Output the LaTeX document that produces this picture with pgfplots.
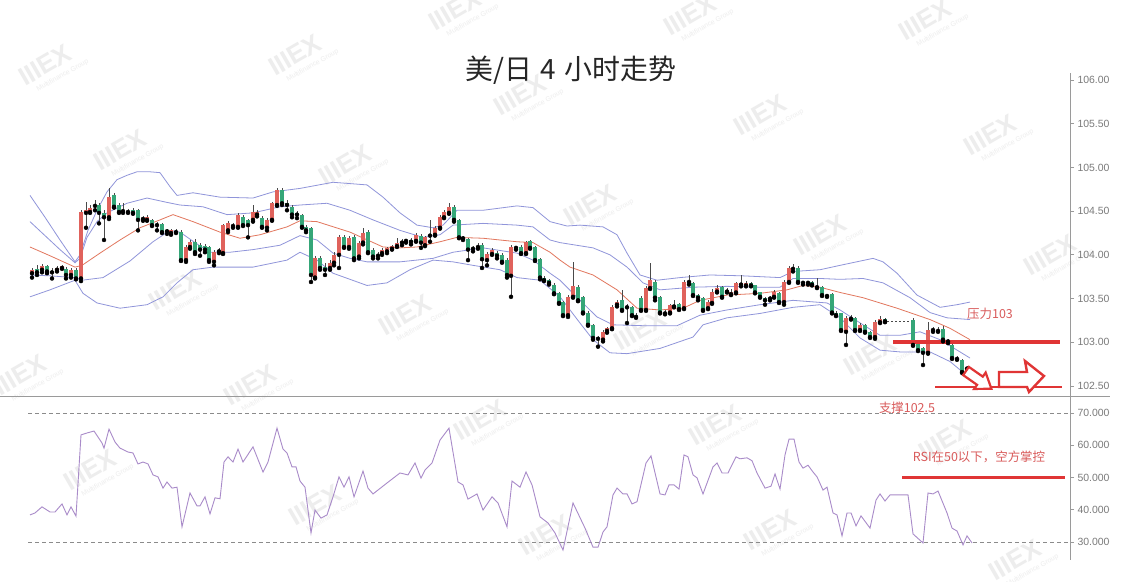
\documentclass[border=0pt]{standalone}
\usepackage{fontspec}
\setmainfont{Liberation Sans}
\newfontfamily\cjk{Noto Sans CJK SC}
\usepackage{pgfplots}
\usepackage{pgfplotstable}
\pgfplotsset{compat=1.18}

\definecolor{upc}{HTML}{E0625C}
\definecolor{dnc}{HTML}{35A678}
\definecolor{wick}{HTML}{4A4A4A}
\definecolor{band}{HTML}{9095DA}
\definecolor{midc}{HTML}{E2775E}
\definecolor{rsic}{HTML}{A98BC9}
\definecolor{anno}{HTML}{E03535}
\definecolor{annotext}{HTML}{D95B5B}
\definecolor{axisc}{HTML}{9A9A9A}
\definecolor{tickc}{HTML}{7A7A7A}
\definecolor{wmark}{HTML}{EDEDED}

% USD/JPY 4h candles: x (px position), open, high, low, close
\pgfplotstableread{
x o h l c
32 103.79 103.85 103.74 103.83
42 103.83 103.90 103.80 103.87
57 103.83 103.87 103.81 103.85
62 103.85 103.88 103.84 103.87
71 103.77 103.85 103.74 103.83
81 103.73 104.51 103.70 104.49
86 104.48 104.60 104.31 104.51
90 104.49 104.57 104.48 104.54
95 104.56 104.63 104.51 104.57
109 104.43 104.76 104.41 104.66
123 104.50 104.59 104.48 104.51
147 104.40 104.46 104.39 104.43
171 104.25 104.30 104.23 104.28
186 103.94 104.11 103.92 104.09
190 104.09 104.17 104.07 104.15
214 103.92 104.06 103.88 104.03
223 104.02 104.35 104.01 104.34
228 104.28 104.39 104.26 104.36
233 104.33 104.36 104.31 104.34
238 104.32 104.48 104.31 104.46
253 104.40 104.57 104.38 104.49
257 104.46 104.51 104.44 104.49
267 104.31 104.42 104.28 104.40
272 104.40 104.61 104.39 104.59
277 104.57 104.76 104.56 104.74
315 103.74 103.99 103.73 103.96
330 103.85 103.94 103.83 103.91
334 103.91 104.03 103.88 104.00
339 104.00 104.23 103.85 104.20
349 104.09 104.22 104.07 104.19
359 103.98 104.16 103.96 104.14
363 104.14 104.31 104.12 104.25
382 104.02 104.08 104.00 104.06
387 104.04 104.09 104.02 104.08
392 104.07 104.11 104.06 104.10
397 104.10 104.19 104.09 104.14
402 104.14 104.18 104.11 104.16
406 104.16 104.18 104.14 104.17
416 104.16 104.25 104.15 104.23
425 104.11 104.22 104.10 104.20
430 104.22 104.40 104.15 104.23
435 104.23 104.33 104.22 104.31
440 104.31 104.46 104.30 104.43
444 104.43 104.51 104.42 104.49
449 104.48 104.59 104.47 104.55
478 104.09 104.14 104.07 104.10
487 103.94 104.03 103.88 104.01
492 104.01 104.08 104.00 104.06
511 103.76 104.11 103.52 104.09
516 104.08 104.10 104.06 104.09
526 104.02 104.16 104.01 104.15
568 103.31 103.54 103.29 103.52
573 103.52 103.92 103.51 103.64
603 103.03 103.14 103.01 103.12
607 103.13 103.17 103.11 103.16
612 103.16 103.43 103.15 103.40
617 103.43 103.48 103.41 103.46
646 103.37 103.64 103.36 103.62
650 103.62 103.91 103.61 103.71
670 103.34 103.44 103.33 103.43
684 103.39 103.71 103.38 103.69
689 103.69 103.77 103.66 103.70
708 103.39 103.48 103.38 103.46
712 103.45 103.61 103.44 103.58
717 103.58 103.65 103.57 103.62
727 103.58 103.62 103.57 103.60
731 103.55 103.61 103.54 103.58
736 103.57 103.69 103.56 103.68
741 103.66 103.77 103.64 103.68
746 103.65 103.70 103.64 103.68
774 103.52 103.60 103.51 103.57
784 103.46 103.71 103.43 103.69
789 103.69 103.87 103.68 103.85
808 103.68 103.70 103.66 103.69
846 103.12 103.30 102.97 103.28
860 103.14 103.22 103.13 103.20
875 103.06 103.26 103.04 103.23
880 103.23 103.30 103.22 103.27
928 102.88 103.23 102.87 103.14
933 103.14 103.17 103.12 103.15
967 102.70 102.73 102.67 102.71
}\upcandles

\pgfplotstableread{
x o h l c
37 103.84 103.88 103.77 103.80
47 103.87 103.88 103.79 103.81
52 103.81 103.85 103.73 103.80
66 103.84 103.86 103.73 103.77
76 103.83 103.85 103.72 103.73
99 104.57 104.59 104.36 104.48
104 104.48 104.51 104.17 104.43
114 104.68 104.71 104.54 104.55
119 104.57 104.59 104.48 104.49
128 104.50 104.52 104.48 104.49
133 104.51 104.54 104.47 104.48
138 104.51 104.52 104.28 104.40
143 104.42 104.44 104.39 104.41
152 104.40 104.41 104.33 104.34
157 104.35 104.38 104.28 104.34
162 104.35 104.36 104.25 104.26
167 104.28 104.30 104.24 104.27
176 104.27 104.30 104.25 104.26
181 104.26 104.28 103.93 103.94
195 104.15 104.18 104.01 104.03
200 104.11 104.14 103.99 104.06
205 104.10 104.12 104.03 104.06
209 104.09 104.10 103.92 103.94
219 104.06 104.08 104.02 104.04
243 104.43 104.46 104.33 104.34
248 104.40 104.41 104.20 104.34
262 104.42 104.44 104.31 104.32
282 104.74 104.76 104.57 104.59
287 104.59 104.63 104.51 104.57
292 104.55 104.57 104.43 104.46
297 104.48 104.50 104.42 104.46
302 104.46 104.47 104.31 104.32
306 104.32 104.34 104.26 104.28
311 104.31 104.32 103.69 103.77
320 103.96 103.99 103.83 103.85
325 103.86 103.91 103.77 103.83
344 104.20 104.23 104.08 104.09
354 104.20 104.23 103.94 103.96
368 104.26 104.28 104.02 104.03
373 104.06 104.08 103.96 103.98
378 104.00 104.03 103.96 103.99
411 104.17 104.19 104.12 104.15
421 104.22 104.24 104.08 104.14
454 104.55 104.57 104.38 104.40
459 104.40 104.41 104.19 104.20
463 104.20 104.22 104.17 104.19
468 104.18 104.19 103.94 104.06
473 104.08 104.10 104.04 104.07
482 104.11 104.14 103.85 103.95
497 104.02 104.04 103.96 103.99
502 104.00 104.02 103.91 103.92
507 103.94 103.96 103.74 103.77
521 104.09 104.11 104.01 104.02
530 104.16 104.17 104.07 104.08
535 104.09 104.10 103.93 103.94
540 103.95 103.96 103.72 103.74
544 103.74 103.76 103.70 103.71
549 103.71 103.72 103.66 103.68
554 103.66 103.68 103.55 103.56
559 103.56 103.57 103.44 103.45
563 103.46 103.47 103.30 103.31
578 103.63 103.65 103.47 103.48
583 103.52 103.53 103.33 103.34
588 103.34 103.36 103.19 103.20
593 103.20 103.21 103.03 103.05
598 103.05 103.07 102.95 103.04
622 103.48 103.60 103.36 103.37
627 103.41 103.44 103.22 103.40
632 103.40 103.41 103.30 103.31
636 103.31 103.33 103.28 103.29
641 103.51 103.53 103.36 103.37
655 103.69 103.71 103.48 103.51
660 103.52 103.53 103.33 103.34
665 103.34 103.37 103.32 103.33
674 103.43 103.48 103.40 103.41
679 103.44 103.45 103.37 103.38
693 103.68 103.69 103.53 103.54
698 103.54 103.55 103.48 103.51
703 103.51 103.52 103.36 103.37
722 103.63 103.64 103.51 103.52
751 103.68 103.69 103.64 103.65
755 103.65 103.66 103.56 103.57
760 103.57 103.58 103.51 103.52
765 103.51 103.52 103.43 103.48
770 103.51 103.53 103.48 103.50
779 103.56 103.57 103.45 103.46
793 103.85 103.90 103.81 103.84
798 103.85 103.87 103.68 103.69
803 103.69 103.70 103.66 103.68
812 103.69 103.70 103.65 103.66
817 103.64 103.74 103.62 103.63
822 103.63 103.64 103.53 103.54
827 103.54 103.55 103.52 103.53
832 103.55 103.56 103.33 103.34
836 103.34 103.36 103.30 103.31
841 103.33 103.34 103.13 103.14
851 103.28 103.31 103.26 103.27
855 103.28 103.29 103.13 103.14
865 103.20 103.21 103.11 103.12
870 103.12 103.13 103.05 103.06
885 103.27 103.28 103.23 103.24
913 103.26 103.28 102.96 102.97
918 102.99 103.00 102.90 102.91
923 102.93 102.95 102.74 102.88
938 103.14 103.17 103.12 103.13
943 103.15 103.19 103.01 103.03
948 103.03 103.04 102.99 103.01
952 102.97 102.98 102.81 102.82
957 102.82 102.84 102.80 102.81
962 102.80 102.81 102.65 102.66
971 102.69 102.71 102.66 102.67
}\dncandles

\pgfplotsset{
  wicks/.style={only marks, mark=none, forget plot,
    error bars/.cd, y dir=plus, y explicit, error mark=none,
    error bar style={line width=0.8bp, draw=wick, solid}},
  bodies/.style={only marks, mark=none, forget plot,
    error bars/.cd, y dir=plus, y explicit, error mark=none,
    error bar style={line width=3.6bp, draw=#1, solid, line cap=butt}},
  rightaxis/.style={scale only axis, width=1070bp, xmin=0, xmax=1070,
    axis x line=none, axis y line=right,
    y axis line style={-, draw=axisc, line width=0.8bp},
    ytick style={draw=axisc, line width=0.8bp},
    tick align=outside, major tick length=4bp,
    yticklabel style={font=\fontsize{10.5}{12}\selectfont, text=tickc},
    /pgf/number format/assume math mode=true,
    anchor=south west}
}

\begin{document}
\begin{tikzpicture}[x=1bp, y=1bp]
\fill[white] (0,0) rectangle (1124,582);

% faint logo watermarks behind the chart
\foreach \wx/\wy in {45/517, 295/527, 455/572, 690/567, 925/562, 120/432, 345/417, 520/487, 760/467, 990/447, 590/377, 820/347, 1050/327, 175/292, 405/267, 640/252, 870/227, 20/207, 250/197, 480/162, 715/157, 945/142, 90/112, 315/77, 545/47, 770/52, 1015/22}
{
  \begin{scope}[shift={(\wx,\wy)}, rotate=30, transform shape]
    \node[text=wmark, font=\fontsize{26}{26}\selectfont\bfseries] at (0,0) {IIIEX};
    \node[text=wmark, font=\fontsize{7}{8}\selectfont] at (10,-18) {Multifinance Group};
  \end{scope}
}

% price panel
\begin{axis}[rightaxis, at={(0bp,186bp)}, height=323bp,
  ymin=102.386, ymax=106.080,
  ytick={102.5,103,103.5,104,104.5,105,105.5,106},
  yticklabel style={/pgf/number format/fixed, /pgf/number format/fixed zerofill, /pgf/number format/precision=2}]

% bollinger bands
\addplot[band, line width=0.8bp] coordinates {(30,104.68)(45,104.43)(60,104.17)(75,103.92)(80,104.00)(88,104.28)(97,104.51)(107,104.72)(117,104.86)(127,104.91)(137,104.95)(150,104.95)(160,104.94)(170,104.78)(177,104.68)(193,104.71)(220,104.66)(253,104.65)(273,104.72)(300,104.76)(333,104.83)(367,104.80)(383,104.66)(400,104.48)(417,104.34)(433,104.31)(443,104.34)(457,104.51)(483,104.51)(517,104.56)(533,104.54)(550,104.38)(567,104.33)(580,104.34)(603,104.32)(617,104.23)(627,104.02)(640,103.77)(657,103.71)(680,103.74)(710,103.77)(743,103.76)(780,103.74)(793,103.81)(820,103.83)(840,103.88)(873,103.96)(883,103.92)(897,103.79)(917,103.54)(940,103.40)(957,103.43)(970,103.46)};
\addplot[band, line width=0.8bp] coordinates {(30,104.38)(45,104.22)(60,104.06)(75,103.91)(80,103.96)(87,104.20)(97,104.38)(107,104.48)(127,104.59)(147,104.65)(167,104.60)(180,104.57)(203,104.55)(227,104.46)(253,104.48)(280,104.55)(300,104.57)(327,104.59)(350,104.51)(373,104.40)(400,104.28)(423,104.20)(440,104.23)(453,104.34)(483,104.36)(517,104.34)(533,104.32)(550,104.17)(560,104.14)(593,104.08)(610,104.00)(627,103.86)(643,103.68)(660,103.60)(693,103.63)(727,103.64)(760,103.63)(780,103.63)(793,103.73)(820,103.73)(840,103.72)(863,103.73)(883,103.68)(910,103.51)(930,103.34)(947,103.28)(970,103.26)};
\addplot[midc, line width=0.8bp] coordinates {(30,104.09)(50,103.99)(75,103.86)(82,103.88)(100,104.02)(120,104.17)(140,104.31)(160,104.40)(173,104.46)(193,104.38)(220,104.26)(240,104.19)(260,104.23)(287,104.32)(300,104.39)(317,104.38)(350,104.26)(383,104.09)(400,104.08)(417,104.09)(440,104.15)(457,104.20)(483,104.19)(517,104.15)(533,104.14)(550,104.03)(560,103.94)(570,103.86)(593,103.77)(617,103.60)(637,103.39)(660,103.37)(683,103.39)(700,103.48)(727,103.54)(760,103.56)(787,103.60)(803,103.65)(820,103.63)(840,103.57)(863,103.51)(897,103.39)(930,103.26)(950,103.16)(970,103.03)};
\addplot[band, line width=0.8bp] coordinates {(30,103.77)(50,103.76)(75,103.74)(82,103.71)(103,103.74)(130,103.93)(153,104.15)(170,104.28)(180,104.26)(195,104.14)(210,104.03)(230,104.03)(253,104.06)(280,104.11)(300,104.22)(317,104.17)(333,104.02)(350,103.96)(367,103.92)(400,103.92)(433,103.96)(453,104.03)(483,104.08)(517,104.02)(533,103.94)(550,103.79)(560,103.71)(580,103.48)(597,103.29)(613,103.20)(643,103.19)(677,103.19)(700,103.31)(727,103.37)(760,103.43)(793,103.48)(827,103.45)(840,103.37)(863,103.20)(880,103.08)(900,103.08)(920,103.12)(940,103.03)(970,102.82)};
\addplot[band, line width=0.8bp] coordinates {(30,103.52)(50,103.60)(75,103.71)(83,103.56)(97,103.45)(120,103.39)(147,103.43)(163,103.52)(177,103.68)(193,103.83)(213,103.86)(253,103.86)(287,103.94)(300,104.03)(317,103.94)(333,103.79)(367,103.65)(387,103.68)(410,103.83)(433,103.94)(453,103.92)(473,103.88)(500,103.83)(517,103.74)(540,103.71)(560,103.52)(580,103.22)(593,103.03)(610,102.88)(627,102.87)(660,102.93)(693,103.06)(703,103.20)(727,103.28)(760,103.33)(793,103.40)(820,103.43)(840,103.28)(860,103.05)(880,102.91)(900,102.89)(930,102.89)(950,102.78)(970,102.59)};

% candles
\addplot[wicks] table[x=x, y=l, y error plus expr=\thisrow{h}-\thisrow{l}] {\upcandles};
\addplot[wicks] table[x=x, y=l, y error plus expr=\thisrow{h}-\thisrow{l}] {\dncandles};
\addplot[bodies=upc] table[x=x, y=o, y error plus expr=\thisrow{c}-\thisrow{o}] {\upcandles};
\addplot[bodies=dnc] table[x=x, y=c, y error plus expr=\thisrow{o}-\thisrow{c}] {\dncandles};
\addplot[wick, line width=0.8bp, dash pattern=on 2bp off 2bp] coordinates {(887,103.24)(911,103.24)};

% resistance / support
\addplot[anno, line width=4bp] coordinates {(893,103.00)(1060,103.00)};
\addplot[anno, line width=2.6bp] coordinates {(935,102.49)(1062,102.49)};
\end{axis}

% RSI panel
\begin{axis}[rightaxis, at={(0bp,22bp)}, height=164bp,
  ymin=24.42, ymax=75.27,
  ytick={30,40,50,60,70},
  yticklabel style={/pgf/number format/fixed, /pgf/number format/fixed zerofill, /pgf/number format/precision=4}]
\addplot[axisc!90!black, line width=0.8bp, dash pattern=on 4bp off 3bp] coordinates {(28,70)(1070,70)};
\addplot[axisc!90!black, line width=0.8bp, dash pattern=on 4bp off 3bp] coordinates {(28,30)(1070,30)};
\addplot[rsic, line width=0.9bp] coordinates {(30,38.4)(35,39.0)(42,40.9)(50,39.3)(55,39.3)(62,41.8)(67,38.4)(71,40.9)(76,38.0)(81,63.2)(87,63.8)(94,64.4)(102,60.7)(104,59.1)(109,65.0)(115,61.0)(120,59.1)(128,57.9)(133,57.6)(138,54.2)(143,54.8)(148,54.2)(153,50.8)(158,50.2)(163,46.7)(167,48.6)(172,46.7)(177,47.0)(182,34.7)(190,45.2)(197,41.2)(200,41.2)(205,44.0)(210,38.7)(215,43.7)(220,43.4)(224,54.8)(228,56.4)(233,54.8)(238,58.8)(243,54.8)(253,59.5)(263,51.7)(268,54.8)(277,65.3)(283,58.8)(287,57.6)(292,53.3)(296,53.3)(300,48.9)(305,47.0)(311,32.8)(315,39.9)(321,37.4)(327,38.4)(333,44.0)(339,50.2)(344,47.0)(349,50.2)(354,44.0)(363,52.0)(368,46.7)(373,44.9)(387,48.3)(400,51.4)(408,50.8)(415,54.5)(421,49.8)(425,52.3)(432,54.5)(440,61.6)(449,65.3)(458,48.6)(463,47.7)(468,43.3)(477,44.9)(483,39.9)(492,44.0)(498,42.1)(507,34.7)(512,48.9)(520,47.0)(526,51.7)(532,47.7)(540,37.8)(548,35.9)(555,32.8)(563,27.5)(573,42.1)(585,34.3)(593,28.4)(598,28.4)(603,33.1)(607,34.7)(613,44.6)(617,46.7)(623,44.9)(627,44.9)(632,41.8)(637,42.5)(646,54.5)(651,56.7)(660,44.9)(665,44.6)(669,47.7)(674,47.7)(679,46.4)(684,57.0)(688,56.4)(693,50.8)(697,49.9)(703,44.9)(713,53.3)(717,54.5)(722,51.4)(728,51.4)(736,56.4)(740,55.8)(747,56.1)(752,55.2)(757,51.4)(765,46.7)(771,47.3)(775,51.1)(780,46.4)(785,57.0)(789,61.9)(794,61.9)(799,54.8)(803,52.9)(808,53.8)(813,51.7)(817,50.2)(823,46.1)(827,47.0)(833,39.0)(837,38.4)(842,31.9)(847,39.0)(851,39.0)(856,35.0)(861,38.1)(870,34.3)(876,43.0)(880,44.9)(885,42.7)(890,44.6)(908,44.6)(913,32.5)(923,29.7)(928,45.2)(933,44.9)(938,45.8)(947,39.0)(952,34.3)(957,33.4)(963,29.1)(967,31.9)(972,29.7)};
\addplot[anno, line width=3.5bp] coordinates {(902,50)(1065,50)};
\end{axis}

% panel separator, clipped label edge
\draw[axisc, line width=0.8bp] (0,186) -- (1110,186);
\fill[white] (1110,0) rectangle (1124,184);

% title and notes
\node[font=\cjk\fontsize{28}{32}\selectfont, text=black!85] at (571,512) {美/日\hspace{0.3em}4\hspace{0.3em}小时走势};
\node[font=\cjk\fontsize{12.5}{14}\selectfont, text=annotext] at (990,268) {压力103};
\node[font=\cjk\fontsize{12.5}{14}\selectfont, text=annotext] at (907,174) {支撑102.5};
\node[font=\cjk\fontsize{12.5}{14}\selectfont, text=annotext] at (979,125) {RSI在50以下，空方掌控};

% arrows
\begin{scope}[shift={(966,211)}, rotate=-35]
\draw[anno, line width=2.2bp, fill=white, line join=miter] (0,5) -- (17,5) -- (17,10) -- (31,0) -- (17,-10) -- (17,-5) -- (0,-5) -- cycle;
\end{scope}
\draw[anno, line width=2.4bp, fill=white, line join=miter] (999,210) -- (1027,210) -- (1025,221) -- (1044,206) -- (1029,190) -- (1027,195) -- (999,195) -- cycle;

\pgfresetboundingbox
\path[use as bounding box] (0,0) rectangle (1124,582);
\end{tikzpicture}
\end{document}
